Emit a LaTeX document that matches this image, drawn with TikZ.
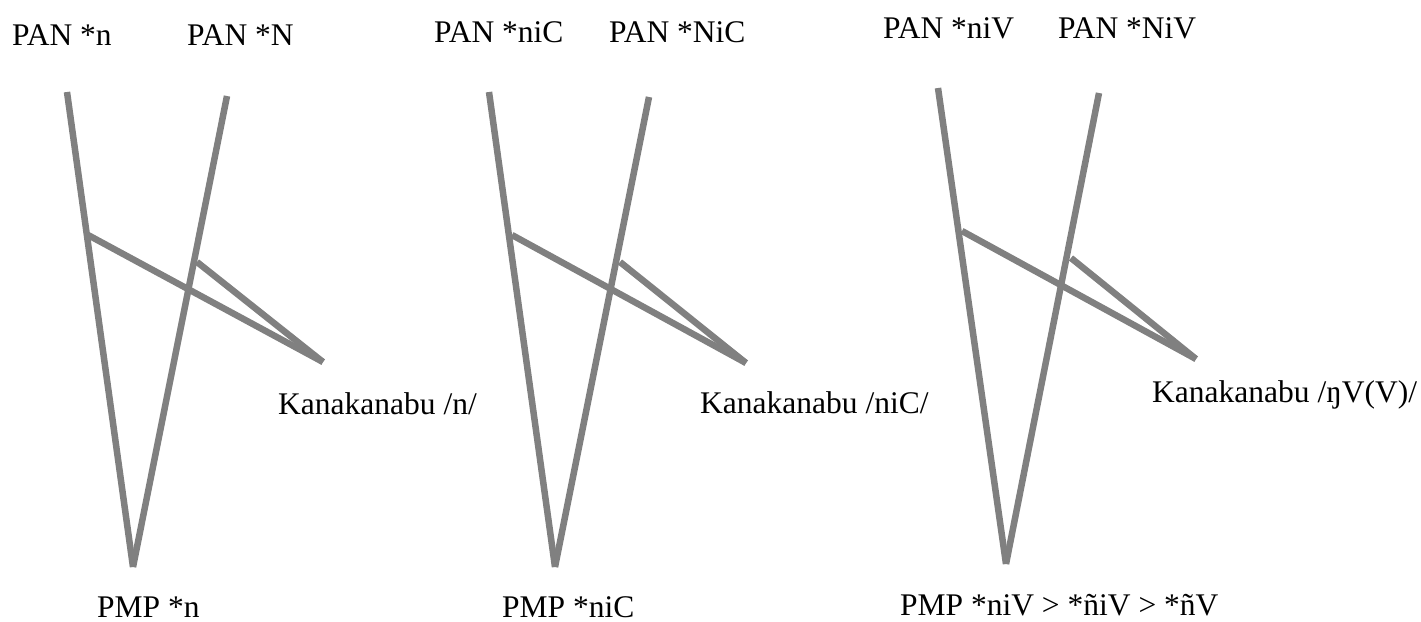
\documentclass[tikz,border=0pt]{standalone}
\usepackage{fontspec}
\setmainfont{Liberation Serif}
\usepackage{tikz}
\usetikzlibrary{calc}

\begin{document}
\begin{tikzpicture}[x=1pt,y=-1pt,
        branch/.style={draw=gray,line width=6.5pt},
        lang/.style={anchor=base west,inner sep=0pt,font=\fontsize{31.5}{37}\selectfont}]
            \useasboundingbox (0,0) rectangle (1421,621);
            \node[lang] (pan1n) at (12,45) {PAN *n};
            \node[lang] (pan1N) at (187,45) {PAN *N};
            \node[lang] (kan1) at (278,414) {Kanakanabu /n/};
            \node[lang] (pmp1) at (97,617) {PMP *n};
            \node[lang] (pan2n) at (434,42) {PAN *niC};
            \node[lang] (pan2N) at (609,42) {PAN *NiC};
            \node[lang] (kan2) at (700,413) {Kanakanabu /niC/};
            \node[lang] (pmp2) at (502,617) {PMP *niC};
            \node[lang] (pan3n) at (883,38) {PAN *niV};
            \node[lang] (pan3N) at (1058,38) {PAN *NiV};
            \node[lang] (kan3) at (1152,402) {Kanakanabu /ŋV(V)/};
            \node[lang] (pmp3) at (900,615) {PMP *niV > *ñiV > *ñV};
            \coordinate (t1a) at (67,92);
            \coordinate (t1b) at (227,96);
            \coordinate (b1) at (133,567);
            \coordinate (j1a) at (88,235);
            \coordinate (j1b) at (197,262);
            \coordinate (k1) at (323,362);
            \coordinate (t2a) at (489,92);
            \coordinate (t2b) at (649,97);
            \coordinate (b2) at (555,567);
            \coordinate (j2a) at (512,235);
            \coordinate (j2b) at (620,262);
            \coordinate (k2) at (746,363);
            \coordinate (t3a) at (938,88);
            \coordinate (t3b) at (1099,93);
            \coordinate (b3) at (1006,564);
            \coordinate (j3a) at (962,231);
            \coordinate (j3b) at (1071,258);
            \coordinate (k3) at (1196,359);
            \draw[branch] (t1a)--(b1);
            \draw[branch] (t1b)--(b1);
            \draw[branch] (j1a)--(k1);
            \draw[branch] (j1b)--(k1);
            \draw[branch] (t2a)--(b2);
            \draw[branch] (t2b)--(b2);
            \draw[branch] (j2a)--(k2);
            \draw[branch] (j2b)--(k2);
            \draw[branch] (t3a)--(b3);
            \draw[branch] (t3b)--(b3);
            \draw[branch] (j3a)--(k3);
            \draw[branch] (j3b)--(k3);
        \end{tikzpicture}
\end{document}
